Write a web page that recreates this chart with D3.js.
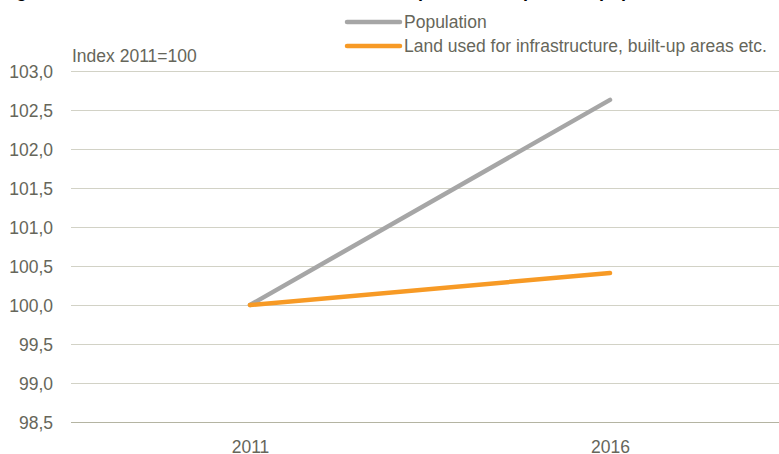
<!DOCTYPE html>
<html><head><meta charset="utf-8">
<script src="https://cdn.jsdelivr.net/npm/d3@7"></script>
<style>body{margin:0;background:#fff;}svg{display:block;font-family:"Liberation Sans",Arial,sans-serif;}</style>
</head><body>
<script>
const categories = ["2011", "2016"];
const population = [100.0, 102.63];
const landUse = [100.0, 100.41];
const yTicks = [98.5, 99.0, 99.5, 100.0, 100.5, 101.0, 101.5, 102.0, 102.5, 103.0];
const seriesNames = ["Population", "Land used for infrastructure, built-up areas etc."];
const seriesColors = ["#a6a6a6", "#f79a25"];
const titleText = "Figure 6. Land used for infrastructure and built-up areas compared to population";
const unitLabel = "Index 2011=100";

const W = 779, H = 454;
const textColor = "#66665a";
const svg = d3.select("body").append("svg").attr("width", W).attr("height", H);

const x = d3.scalePoint().domain(categories).range([70, 790]).padding(0.5);
const y = d3.scaleLinear().domain([98.5, 103]).range([422, 71]);

// title (cut off at the top in the reference)
svg.append("text").attr("x", 0).attr("y", -3).attr("font-weight", "bold")
  .attr("font-size", 18).attr("fill", "#000").text(titleText);

// gridlines
svg.append("g").selectAll("line").data(yTicks).join("line")
  .attr("x1", 71).attr("x2", W).attr("y1", d => y(d)).attr("y2", d => y(d))
  .attr("stroke", d => d === 98.5 ? "#b4b4a2" : "#d2d2c6").attr("stroke-width", 1)
  .attr("shape-rendering", "crispEdges");

// y axis labels
const fmt = d => d3.format(".1f")(d).replace(".", ",");
const yAxis = d3.axisLeft(y).tickValues(yTicks).tickFormat(fmt).tickSize(0).tickPadding(0);
const ga = svg.append("g").attr("transform", "translate(53,0)").call(yAxis);
ga.select(".domain").remove();
ga.selectAll("text").attr("font-size", 17.5).attr("fill", textColor)
  .attr("font-family", '"Liberation Sans",Arial,sans-serif').attr("dy", "0.36em");

// x axis labels
const xAxis = d3.axisBottom(x).tickSize(0).tickPadding(0);
const gx = svg.append("g").attr("transform", "translate(0,440)").call(xAxis);
gx.select(".domain").remove();
gx.selectAll("text").attr("font-size", 17.5).attr("fill", textColor)
  .attr("font-family", '"Liberation Sans",Arial,sans-serif').attr("dy", "0.72em");

// unit label
svg.append("text").attr("x", 72).attr("y", 62).attr("font-size", 17.5).attr("fill", textColor).text(unitLabel);

// lines
const line = d3.line().x((d, i) => x(categories[i])).y(d => y(d));
[population, landUse].forEach((s, k) => {
  svg.append("path").datum(s).attr("d", line).attr("fill", "none")
    .attr("stroke", seriesColors[k]).attr("stroke-width", 4.5).attr("stroke-linecap", "round");
});

// legend
seriesNames.forEach((n, k) => {
  const ly = 22 + k * 24;
  svg.append("line").attr("x1", 347).attr("x2", 400).attr("y1", ly).attr("y2", ly)
    .attr("stroke", seriesColors[k]).attr("stroke-width", 4.5).attr("stroke-linecap", "round");
  svg.append("text").attr("x", 404).attr("y", ly).attr("dy", "0.36em")
    .attr("font-size", 17.5).attr("fill", textColor).text(n);
});
</script>
</body></html>
